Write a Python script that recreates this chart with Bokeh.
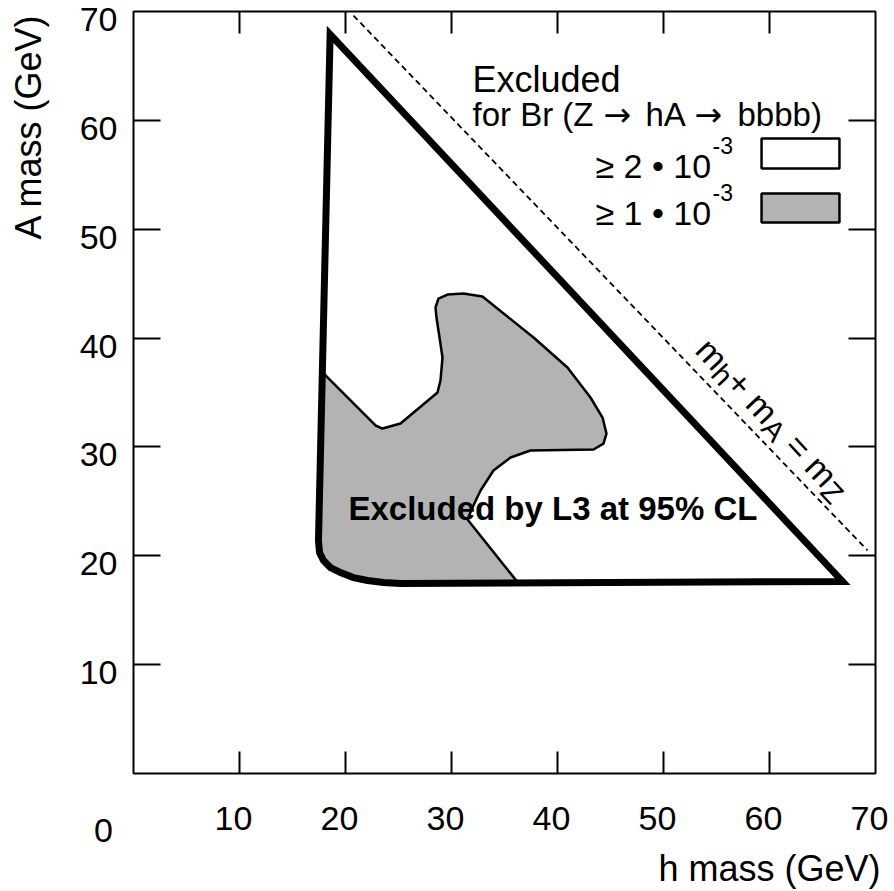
import math
from bokeh.plotting import figure
from bokeh.models import Range1d, LinearAxis, FixedTicker, Label
from bokeh.core.properties import value
from bokeh.embed import file_html
from bokeh.resources import INLINE

FONT = "Liberation Sans"

# ---------------- data ----------------
tick_values = [0, 10, 20, 30, 40, 50, 60, 70]
tick_labels = ["0", "10", "20", "30", "40", "50", "60", "70"]

# outer contour: excluded for Br >= 2e-3 (h mass, A mass in GeV)
outer_h = [18.55, 17.45, 17.55, 17.92, 18.58, 19.53, 20.75, 22.08, 23.58, 25.19, 66.89]
outer_A = [67.90, 21.40, 20.30, 19.57, 18.92, 18.46, 18.00, 17.73, 17.55, 17.45, 17.64]

# boundary of the region excluded for Br >= 1e-3 (inside the outer contour)
gray_h = [17.83, 22.83, 23.49, 25.19, 28.68, 28.96, 29.15, 28.87, 28.58, 28.49, 28.77,
          29.62, 31.13, 32.92, 37.74, 40.94, 43.11, 44.25, 44.62, 44.34, 43.40, 37.45,
          35.57, 33.96, 32.74, 31.98, 31.51, 36.30]
gray_A = [36.84, 31.97, 31.69, 32.15, 35.00, 36.10, 38.21, 40.05, 41.89, 42.81, 43.63,
          44.00, 44.09, 43.82, 40.05, 37.30, 34.54, 32.70, 31.23, 30.31, 29.76, 29.67,
          29.03, 27.83, 26.00, 24.44, 23.33, 17.50]

# kinematic limit m_h + m_A = m_Z
mz_h = [20.75, 69.25]
mz_A = [69.63, 20.49]

GRAY = "#b3b3b3"

# ---------------- figure ----------------
FW, FH = 742, 762
p = figure(width=894, height=891, x_range=Range1d(0, 70), y_range=Range1d(0, 70),
           x_axis_type=None, y_axis_type=None, output_backend="svg",
           toolbar_location=None, min_border_left=133, min_border_right=19,
           min_border_top=11, min_border_bottom=118)
p.background_fill_color = "white"
p.border_fill_color = "white"
p.outline_line_color = "black"
p.outline_line_width = 2
p.outline_line_alpha = 1.0

# tick labels in the original sit slightly off their ticks: label-only axes on
# ranges shifted by a few pixels (6 px left for h, 8 px down for A)
p.extra_x_ranges = {"xlab": Range1d(6 * 70 / FW, 70 + 6 * 70 / FW)}
p.extra_y_ranges = {"ylab": Range1d(8 * 70 / FH, 70 + 8 * 70 / FH)}


def tick_axis(ticks, tick_in):
    ax = LinearAxis(ticker=FixedTicker(ticks=ticks))
    ax.axis_line_color = None
    ax.major_tick_in = tick_in
    ax.major_tick_out = 0
    ax.major_tick_line_width = 2
    ax.major_tick_line_color = "black"
    ax.minor_tick_line_color = None
    ax.major_label_overrides = {v: "" for v in ticks}
    ax.major_label_text_font_size = "0px"
    ax.major_label_text_color = None
    ax.major_label_standoff = 0
    return ax


def label_axis(ticks, standoff, **kw):
    ax = LinearAxis(ticker=FixedTicker(ticks=ticks), **kw)
    ax.axis_line_color = None
    ax.major_tick_in = 0
    ax.major_tick_out = 0
    ax.major_tick_line_color = None
    ax.minor_tick_line_color = None
    ax.major_label_overrides = {v: tick_labels[tick_values.index(v)] for v in ticks}
    ax.major_label_text_font = FONT
    ax.major_label_text_font_size = "34px"
    ax.major_label_text_color = "black"
    ax.major_label_standoff = standoff
    return ax


inner = tick_values[1:-1]
p.add_layout(tick_axis(inner, 22), "below")
p.add_layout(label_axis(tick_values[1:], 33, x_range_name="xlab"), "below")
p.add_layout(tick_axis(inner, 27), "left")
p.add_layout(label_axis(tick_values[1:], 16, y_range_name="ylab"), "left")
p.add_layout(tick_axis(inner, 22), "above")
p.add_layout(tick_axis(inner, 27), "right")

# texts outside the frame (in side panels so that they are not clipped)
p.add_layout(Label(x=tick_values[0], y=0, text=tick_labels[0], x_offset=-30, y_offset=-57,
                   text_align="center", text_baseline="alphabetic",
                   text_font=FONT, text_font_size="34px", text_color="black"), "left")
p.add_layout(Label(x=70, y=0, text="h mass (GeV)", x_offset=5, y_offset=-95,
                   text_align="right", text_baseline="alphabetic",
                   text_font=FONT, text_font_size="36px", text_color="black"), "below")
p.add_layout(Label(x=0, y=70, text="A mass (GeV)", x_offset=-105, y_offset=-2,
                   angle=math.pi / 2, text_align="right", text_baseline="middle",
                   text_font=FONT, text_font_size="36px", text_color="black"), "left")

# ---------------- regions ----------------
fill_h = gray_h + outer_h[9:0:-1]
fill_A = gray_A + outer_A[9:0:-1]
p.patch(fill_h, fill_A, fill_color=GRAY, line_color=None)
p.line(gray_h, gray_A, line_color="black", line_width=2.5, line_join="round")
p.patch(outer_h, outer_A, fill_color=None, line_color="black", line_width=7,
        line_join="miter")
p.line(mz_h, mz_A, line_color="black", line_width=1.8, line_dash="6 4")

# ---------------- texts ----------------
def txt(x, y, s, size, bold=False, angle=0.0, font=FONT):
    p.text(x=[x], y=[y], text=[s], text_font=value(font), text_font_size=value(f"{size}px"),
           text_font_style=value("bold" if bold else "normal"), text_color="black",
           text_align="left", text_baseline="alphabetic", angle=angle)

txt(20.28, 24.34, "Excluded by L3 at 95% CL", 33, bold=True)
txt(31.98, 63.75, "Excluded", 36)
# "for Br (Z -> hA -> bbbb)" with long arrows
txt(31.98, 60.54, "for Br (Z", 33)
txt(44.34, 60.54, "\u2192", 33, font="DejaVu Sans")
txt(48.30, 60.54, "hA", 33)
txt(52.92, 60.54, "\u2192", 33, font="DejaVu Sans")
txt(56.98, 60.54, "bbbb)", 33)
txt(43.58, 55.85, "\u2265 2 \u2022 10", 34)
txt(54.62, 57.69, "-3", 23)
txt(43.58, 51.53, "\u2265 1 \u2022 10", 34)
txt(54.62, 53.37, "-3", 23)

# legend swatches
p.quad(left=[59.25, 59.25], right=[66.6, 66.6], bottom=[55.58, 50.62], top=[58.33, 53.28],
       fill_color=["white", GRAY], line_color="black", line_width=2.5)

# rotated m_h + m_A = m_Z label, built from pieces along the dashed line
sx, sy = FW / 70.0, FH / 70.0
ang = math.radians(47)
ux, uy = math.cos(ang), math.sin(ang)
dnx, dny = -uy, ux
EM = {"m": .833, "h": .556, "+": .584, " ": .278, "A": .667, "=": .584, "Z": .611}
pieces = [("m", 34, 0, 0), ("h", 29, 7, 0), ("+ m", 34, 0, 0), ("A", 29, 7, 0),
          ("= m", 34, 0, 1), ("Z", 29, 7, 0)]
x0, y0 = 53.68, 39.50
adv = 0.0
for s, size, shift, pre in pieces:
    adv += pre * EM[" "] * 34
    px = adv * ux + shift * dnx
    py = adv * uy + shift * dny
    txt(x0 + px / sx, y0 - py / sy, s, size, angle=-ang)
    adv += sum(EM[c] for c in s) * size

open("out.html", "w").write(file_html(p, INLINE))
